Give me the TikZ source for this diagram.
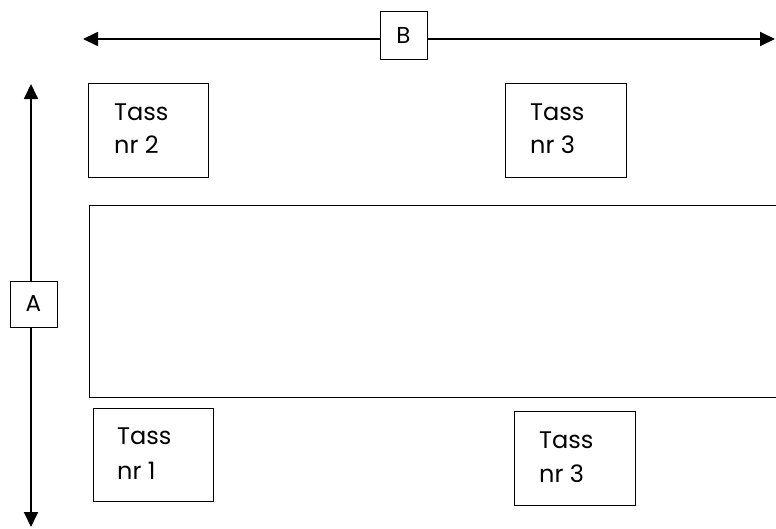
\documentclass[tikz,border=0pt]{standalone}
\usepackage{fontspec}
\setmainfont{Poppins}
\usetikzlibrary{arrows.meta}
\begin{document}
\begin{tikzpicture}[x=1pt,y=-1pt,
  tassbox/.style={draw,line width=1.4pt,inner sep=0pt},
  tasstext/.style={anchor=base west,inner sep=0pt,font=\fontsize{24}{34}\selectfont},
  dimbox/.style={draw,line width=1pt,fill=white,minimum width=47pt,minimum height=47pt,inner sep=0pt,font=\fontsize{23}{26}\selectfont},
  arr/.style={line width=1.8pt,-{Triangle[length=15pt,width=14pt]}}]
\useasboundingbox (0,0) rectangle (776,528);
\clip (0,0) rectangle (776,528);
% big rectangle
\node[tassbox,minimum width=720pt,minimum height=192pt,anchor=north west] (table) at (89,205) {};
% cup boxes
\node[tassbox,minimum width=120pt,minimum height=94pt,anchor=north west] (t2) at (88,83) {};
\node[tassbox,minimum width=121pt,minimum height=94pt,anchor=north west] (t3a) at (505,83) {};
\node[tassbox,minimum width=120pt,minimum height=93pt,anchor=north west] (t1) at (93,408) {};
\node[tassbox,minimum width=121pt,minimum height=94pt,anchor=north west] (t3b) at (514,411) {};
\node[tasstext] (t2a) at (114,120) {Tass};
\node[tasstext] (t2b) at (114,153) {nr 2};
\node[tasstext] (t3aa) at (530,120) {Tass};
\node[tasstext] (t3ab) at (530,153) {nr 3};
\node[tasstext] (t1a) at (117,444) {Tass};
\node[tasstext] (t1b) at (117,479) {nr 1};
\node[tasstext] (t3ba) at (539,448) {Tass};
\node[tasstext] (t3bb) at (539,482) {nr 3};
% dimension arrows
\coordinate (Bl) at (83,39);
\coordinate (Br) at (775,39);
\coordinate (At) at (31,84);
\coordinate (Ab) at (31,527);
\node[dimbox,minimum height=48pt] (B) at (403.5,35.5) {B};
\node[dimbox,minimum height=46pt] (A) at (33.5,304) {A};
\draw[arr] (B.west |- Bl) -- (Bl);
\draw[arr] (B.east |- Br) -- (Br);
\draw[arr] (A.north -| At) -- (At);
\draw[arr] (A.south -| Ab) -- (Ab);
\end{tikzpicture}
\end{document}
